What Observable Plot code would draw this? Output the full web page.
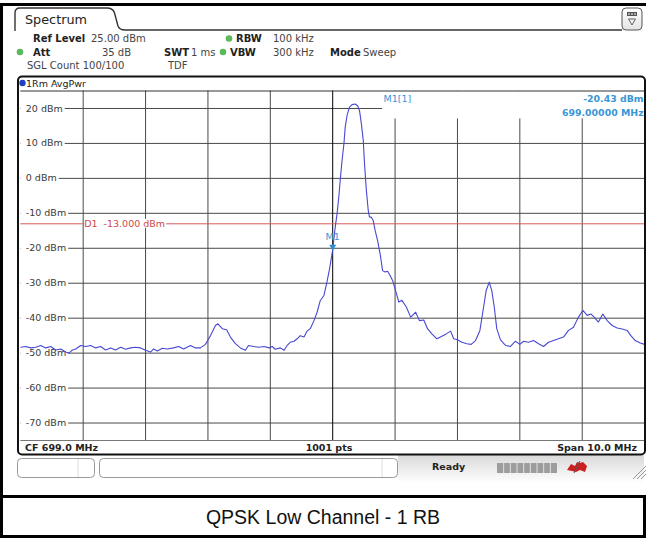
<!DOCTYPE html>
<html>
<head>
<meta charset="utf-8">
<script src="https://cdn.jsdelivr.net/npm/d3@7"></script>
<script src="https://cdn.jsdelivr.net/npm/@observablehq/plot@0.6"></script>
<style>
  html, body { margin: 0; padding: 0; background: #fff; }
  #chart { width: 646px; height: 538px; position: relative; }
</style>
</head>
<body>
<div id="chart"></div>
<script>
// ---- data ----
const freqMHz = [
  694.00,694.08,694.16,694.24,694.32,694.40,694.48,694.56,694.64,694.72,694.77,694.82,694.88,694.96,
  695.04,695.12,695.20,695.28,695.36,695.44,695.52,695.60,695.68,695.76,695.84,695.92,
  696.00,696.08,696.13,696.19,696.27,696.35,696.45,696.53,696.61,696.72,696.80,696.88,696.96,
  697.04,697.12,697.16,697.23,697.30,697.36,697.44,697.52,697.60,697.65,697.73,697.81,697.90,697.98,
  698.03,698.08,698.16,698.22,698.27,698.32,698.38,698.43,698.48,698.54,698.59,698.64,698.70,698.75,698.80,698.86,698.91,698.95,
  699.00,699.04,699.07,699.10,699.12,699.15,699.18,699.20,699.23,699.27,699.31,699.36,699.40,699.43,699.46,699.49,699.51,699.54,699.57,699.59,699.62,699.65,699.68,699.72,699.76,699.80,699.84,699.88,699.92,699.96,
  700.00,700.06,700.11,700.18,700.25,700.33,700.39,700.46,700.52,700.59,700.67,700.75,700.82,700.89,700.94,
  701.00,701.07,701.15,701.22,701.29,701.36,701.41,701.46,701.51,701.55,701.59,701.63,701.69,701.77,701.85,701.93,
  702.00,702.06,702.14,702.22,702.30,702.38,702.46,702.54,702.62,702.70,702.78,702.86,702.94,
  703.01,703.08,703.14,703.19,703.26,703.33,703.40,703.48,703.56,703.64,703.72,703.78,703.85,703.93,704.00
];
const levelDbm = [
  -48.3,-48.1,-48.5,-48.3,-47.8,-48.5,-48.1,-49.1,-48.8,-49.7,-50.0,-49.2,-48.8,-47.8,
  -48.1,-47.8,-48.5,-48.1,-49.1,-48.5,-49.1,-48.3,-48.9,-48.5,-48.3,-48.5,
  -49.2,-49.7,-48.8,-49.4,-48.6,-48.8,-48.5,-48.1,-48.8,-47.8,-48.5,-48.5,-47.5,
  -45.0,-42.1,-41.6,-43.0,-43.3,-45.4,-47.3,-48.5,-49.2,-47.8,-48.1,-48.3,-48.1,-48.5,
  -48.1,-48.9,-48.5,-49.2,-47.8,-46.9,-46.6,-45.9,-45.0,-45.4,-43.7,-43.0,-40.7,-38.3,-35.0,-33.5,-29.5,-25.8,
  -20.43,-14.0,-10.1,-4.9,-0.6,5.1,9.9,14.6,18.0,20.4,21.1,21.3,20.8,19.4,15.6,10.8,4.2,-3.5,-9.2,-11.1,-11.1,-12.1,-14.9,-17.8,-21.6,-26.4,-26.8,-26.6,-27.8,-29.2,
  -31.6,-35.4,-34.9,-36.8,-39.7,-38.3,-40.7,-40.5,-43.0,-44.5,-45.9,-45.2,-44.5,-43.7,-45.9,
  -46.2,-46.9,-47.3,-47.5,-46.4,-43.5,-37.8,-32.1,-29.7,-32.1,-36.8,-43.0,-46.2,-47.8,-48.1,-46.6,
  -47.5,-46.6,-46.9,-46.4,-47.3,-48.1,-46.9,-46.4,-45.9,-45.4,-43.5,-42.6,-39.7,
  -37.8,-39.2,-38.8,-39.7,-41.1,-38.8,-40.7,-42.1,-42.8,-43.1,-43.5,-45.0,-46.4,-47.1,-47.5
];
const xDomain = [694, 704];           // CF 699.0 MHz, span 10 MHz
const yDomain = [-75, 25];            // ref level 25 dBm, 10 dB/div
const xGrid = [695, 696, 697, 698, 700, 701, 702, 703];
const xCenter = [699];
const yTicks = [20, 10, 0, -10, -20, -30, -40, -50, -60, -70];
const yTickLabels = ["20 dBm","10 dBm","0 dBm","-10 dBm","-20 dBm","-30 dBm","-40 dBm","-50 dBm","-60 dBm","-70 dBm"];
const displayLine = [-13];
const displayLineLabel = ["D1  -13.000 dBm"];
const markerFreq = [699.0];
const markerLevel = [-20.43];
const markerLabel = ["M1"];
const markerInfo = ["M1[1]", "-20.43 dBm", "699.00000 MHz"];
const markerBox = {x1: 699.8, x2: 704, y1: 17, y2: 25};
const caption = "QPSK Low Channel - 1 RB";

const trace = freqMHz.map((f, i) => ({f, v: levelDbm[i]}));
const yt = yTicks.map((v, i) => ({v, label: yTickLabels[i]}));

const font = "DejaVu Sans, Verdana, sans-serif";
const gridColor = "#4a4a4a";
const blueText = "#3a96d6";

const svgPlot = Plot.plot({
  width: 646, height: 538,
  marginLeft: 20.3, marginRight: 1.9, marginTop: 90.5, marginBottom: 98,
  x: {domain: xDomain, axis: null},
  y: {domain: yDomain, axis: null},
  style: {background: "white", fontFamily: font, fontSize: "9.5px", overflow: "visible"},
  marks: [
    Plot.ruleY(yTicks, {stroke: gridColor, strokeWidth: 1}),
    Plot.ruleX(xGrid, {stroke: gridColor, strokeWidth: 1}),
    Plot.ruleX(xCenter, {stroke: "#000", strokeWidth: 1}),
    Plot.rect([markerBox], {x1: "x1", x2: "x2", y1: "y1", y2: "y2", fill: "white"}),
    Plot.ruleY([yDomain[1]], {stroke: "#333", strokeWidth: 1}),
    Plot.ruleY([yDomain[0]], {stroke: "#777", strokeWidth: 1}),
    Plot.ruleY(displayLine, {stroke: "#d65c5c", strokeWidth: 1}),
    Plot.text(yt, {x: () => xDomain[0], y: "v", text: "label", textAnchor: "start", dx: 5,
      fill: "#3a3a3a", fontSize: 9.5}),
    Plot.text(displayLineLabel, {x: () => xGrid[0], y: () => displayLine[0], text: d => d, textAnchor: "start", dx: 1,
      fill: "#d04848", fontSize: 9.5}),
    Plot.line(trace, {x: "f", y: "v", stroke: "#4848d2", strokeWidth: 1.1, curve: "linear"}),
    Plot.dot(markerFreq, {x: d => d, y: () => markerLevel[0], symbol: "triangle", rotate: 180, r: 2.6, dy: -3,
      fill: "#2d8fd5", stroke: "none"}),
    Plot.text(markerLabel, {x: () => markerFreq[0], y: () => markerLevel[0], text: d => d, dy: -13,
      fill: blueText, fontSize: 9.5}),
    Plot.text([markerInfo[0]], {x: () => markerBox.x1, y: () => yDomain[1], text: d => d, textAnchor: "start",
      dx: 1, dy: 8, fill: blueText, fontSize: 9.5}),
    Plot.text([markerInfo[1]], {x: () => xDomain[1], y: () => yDomain[1], text: d => d, textAnchor: "end",
      dx: -1, dy: 8, fill: blueText, fontSize: 9.4, fontWeight: "bold"}),
    Plot.text([markerInfo[2]], {x: () => xDomain[1], y: () => yDomain[1], text: d => d, textAnchor: "end",
      dx: -1, dy: 21.5, fill: blueText, fontSize: 9.4, fontWeight: "bold"})
  ]
});
document.getElementById("chart").appendChild(svgPlot);

const svg = d3.select(svgPlot);

// white label backgrounds (the instrument blanks the grid under its labels)
const sBox = svgPlot.getBoundingClientRect();
function backdrop(labels, padL, padR, fromLeft) {
  svg.selectAll("text").filter(function () { return labels.includes(this.textContent); }).each(function () {
    const b = this.getBoundingClientRect();
    const bx = b.left - sBox.left, by = b.top - sBox.top;
    const x0 = fromLeft != null ? fromLeft : bx - padL;
    const parent = this.parentNode;
    d3.select(parent.parentNode).insert("rect", () => parent)
      .attr("x", x0).attr("y", by + 1)
      .attr("width", bx + b.width + padR - x0).attr("height", Math.max(0, b.height - 2))
      .attr("fill", "white");
  });
}
backdrop(yTickLabels, 0, 2, 20.5);
backdrop(displayLineLabel, 0, 1, null);

// ---- instrument screen chrome ----
const defs = svg.append("defs");
const g1 = defs.append("linearGradient").attr("id", "statusGrad").attr("x1", 0).attr("y1", 0).attr("x2", 0).attr("y2", 1);
g1.append("stop").attr("offset", "0%").attr("stop-color", "#d9d9d9");
g1.append("stop").attr("offset", "100%").attr("stop-color", "#ffffff");
const g2 = defs.append("linearGradient").attr("id", "iconGrad").attr("x1", 0).attr("y1", 0).attr("x2", 0).attr("y2", 1);
g2.append("stop").attr("offset", "0%").attr("stop-color", "#ffffff");
g2.append("stop").attr("offset", "100%").attr("stop-color", "#e4e4e4");

const c = svg.append("g").attr("font-family", font);
function txt(x, y, s, o = {}) {
  return c.append("text").attr("x", x).attr("y", y).text(s)
    .attr("font-size", o.size || 10).attr("font-weight", o.bold ? "bold" : "normal")
    .attr("fill", o.fill || "#333").attr("text-anchor", o.anchor || "start")
    .attr("font-family", o.family || font);
}

// status bar background
c.append("rect").attr("x", 398).attr("y", 455).attr("width", 246).attr("height", 28).attr("fill", "url(#statusGrad)");

// Spectrum tab
c.append("path").attr("d", "M15,31 V13 Q15,8 20,8 H107 Q113,8 114.5,13 L118,26 Q119.5,30 125,30 H622")
  .attr("fill", "none").attr("stroke", "#333").attr("stroke-width", 1.4);
txt(25, 24, "Spectrum", {size: 12.8, fill: "#222"});

// top-right icon
c.append("rect").attr("x", 622).attr("y", 8).attr("width", 20).attr("height", 22).attr("rx", 4)
  .attr("fill", "url(#iconGrad)").attr("stroke", "#555").attr("stroke-width", 1);
c.append("rect").attr("x", 627).attr("y", 12).attr("width", 10).attr("height", 4).attr("fill", "#555");
[629, 632, 635].forEach(x => c.append("rect").attr("x", x - 0.5).attr("y", 13).attr("width", 1).attr("height", 2).attr("fill", "#fff"));
c.append("path").attr("d", "M628.5,19 H635.5 L632,25 Z").attr("fill", "none").attr("stroke", "#555").attr("stroke-width", 0.9);

// header settings
function dot(x, y, color) { c.append("circle").attr("cx", x).attr("cy", y).attr("r", 3.3).attr("fill", color); }
txt(33, 42, "Ref Level", {bold: true, fill: "#222"});
txt(91, 42, "25.00 dBm", {fill: "#444"});
dot(229, 38.5, "#5cb85c");
txt(236, 42, "RBW", {bold: true, fill: "#222"});
txt(273, 42, "100 kHz", {fill: "#444"});

dot(20, 52, "#5cb85c");
txt(33, 55.5, "Att", {bold: true, fill: "#222"});
txt(131, 55.5, "35 dB", {fill: "#444", anchor: "end"});
txt(164, 55.5, "SWT", {bold: true, fill: "#222"});
txt(191, 55.5, "1 ms", {fill: "#444"});
dot(223, 52, "#5cb85c");
txt(230, 55.5, "VBW", {bold: true, fill: "#222"});
txt(273, 55.5, "300 kHz", {fill: "#444"});
txt(330, 55.5, "Mode", {bold: true, fill: "#222"});
txt(363, 55.5, "Sweep", {fill: "#444"});

txt(27, 69, "SGL Count 100/100", {fill: "#444"});
txt(168, 69, "TDF", {fill: "#444"});

// diagram frame
c.append("rect").attr("x", 18).attr("y", 76.5).attr("width", 627).attr("height", 378).attr("rx", 4)
  .attr("fill", "none").attr("stroke", "#111").attr("stroke-width", 2);
c.append("circle").attr("cx", 22.5).attr("cy", 83).attr("r", 3.2).attr("fill", "#1f3fc4");
txt(26, 87, "1Rm AvgPwr", {size: 9.5, fill: "#222"});

// bottom info strip
txt(25, 450.5, "CF 699.0 MHz", {bold: true, size: 9.5, fill: "#222"});
txt(329, 450.5, "1001 pts", {bold: true, size: 9.5, fill: "#222", anchor: "middle"});
txt(637, 450.5, "Span 10.0 MHz", {bold: true, size: 9.5, fill: "#222", anchor: "end"});

// soft key boxes
c.append("rect").attr("x", 17.5).attr("y", 458.5).attr("width", 77).attr("height", 19).attr("rx", 4)
  .attr("fill", "#fff").attr("stroke", "#999");
c.append("line").attr("x1", 78).attr("x2", 78).attr("y1", 459).attr("y2", 477).attr("stroke", "#ddd");
c.append("rect").attr("x", 99.5).attr("y", 458.5).attr("width", 298).attr("height", 19).attr("rx", 4)
  .attr("fill", "#fff").attr("stroke", "#999");
c.append("line").attr("x1", 382).attr("x2", 382).attr("y1", 459).attr("y2", 477).attr("stroke", "#ddd");
txt(432, 469.5, "Ready", {bold: true, size: 9.5, fill: "#222"});

// progress bar
c.append("rect").attr("x", 497).attr("y", 463).attr("width", 60).attr("height", 10).attr("fill", "#9d9d9d");
for (let i = 1; i < 9; i++) {
  c.append("line").attr("x1", 497 + i * 6.67).attr("x2", 497 + i * 6.67).attr("y1", 463).attr("y2", 473)
    .attr("stroke", "#e0e0e0").attr("stroke-width", 1);
}
// red status icon
c.append("path").attr("d", "M567,470 L571,464 L575,466 L577,462 L580,463 L583,462 L587,466 L585,472 L580,470 L576,472 L572,471 Z")
  .attr("fill", "#cc1f1f");
c.append("line").attr("x1", 574).attr("y1", 473).attr("x2", 580).attr("y2", 461).attr("stroke", "#555").attr("stroke-width", 1);

// resize hatch
[0, 4, 8].forEach(o => c.append("line").attr("x1", 633 + o).attr("y1", 479).attr("x2", 646).attr("y2", 466 + o)
  .attr("stroke", "#999").attr("stroke-width", 1));

// outer image borders & caption box
c.append("rect").attr("x", 0).attr("y", 3).attr("width", 3).attr("height", 535).attr("fill", "#000");
c.append("rect").attr("x", 0).attr("y", 3).attr("width", 646).attr("height", 3).attr("fill", "#000");
c.append("rect").attr("x", 0).attr("y", 495).attr("width", 646).attr("height", 3).attr("fill", "#000");
c.append("rect").attr("x", 0).attr("y", 535).attr("width", 646).attr("height", 3).attr("fill", "#000");
c.append("rect").attr("x", 643).attr("y", 495).attr("width", 3).attr("height", 43).attr("fill", "#000");
txt(323, 524, caption, {size: 19.5, fill: "#111", anchor: "middle", family: "Liberation Sans, Arial, sans-serif"});
</script>
</body>
</html>
